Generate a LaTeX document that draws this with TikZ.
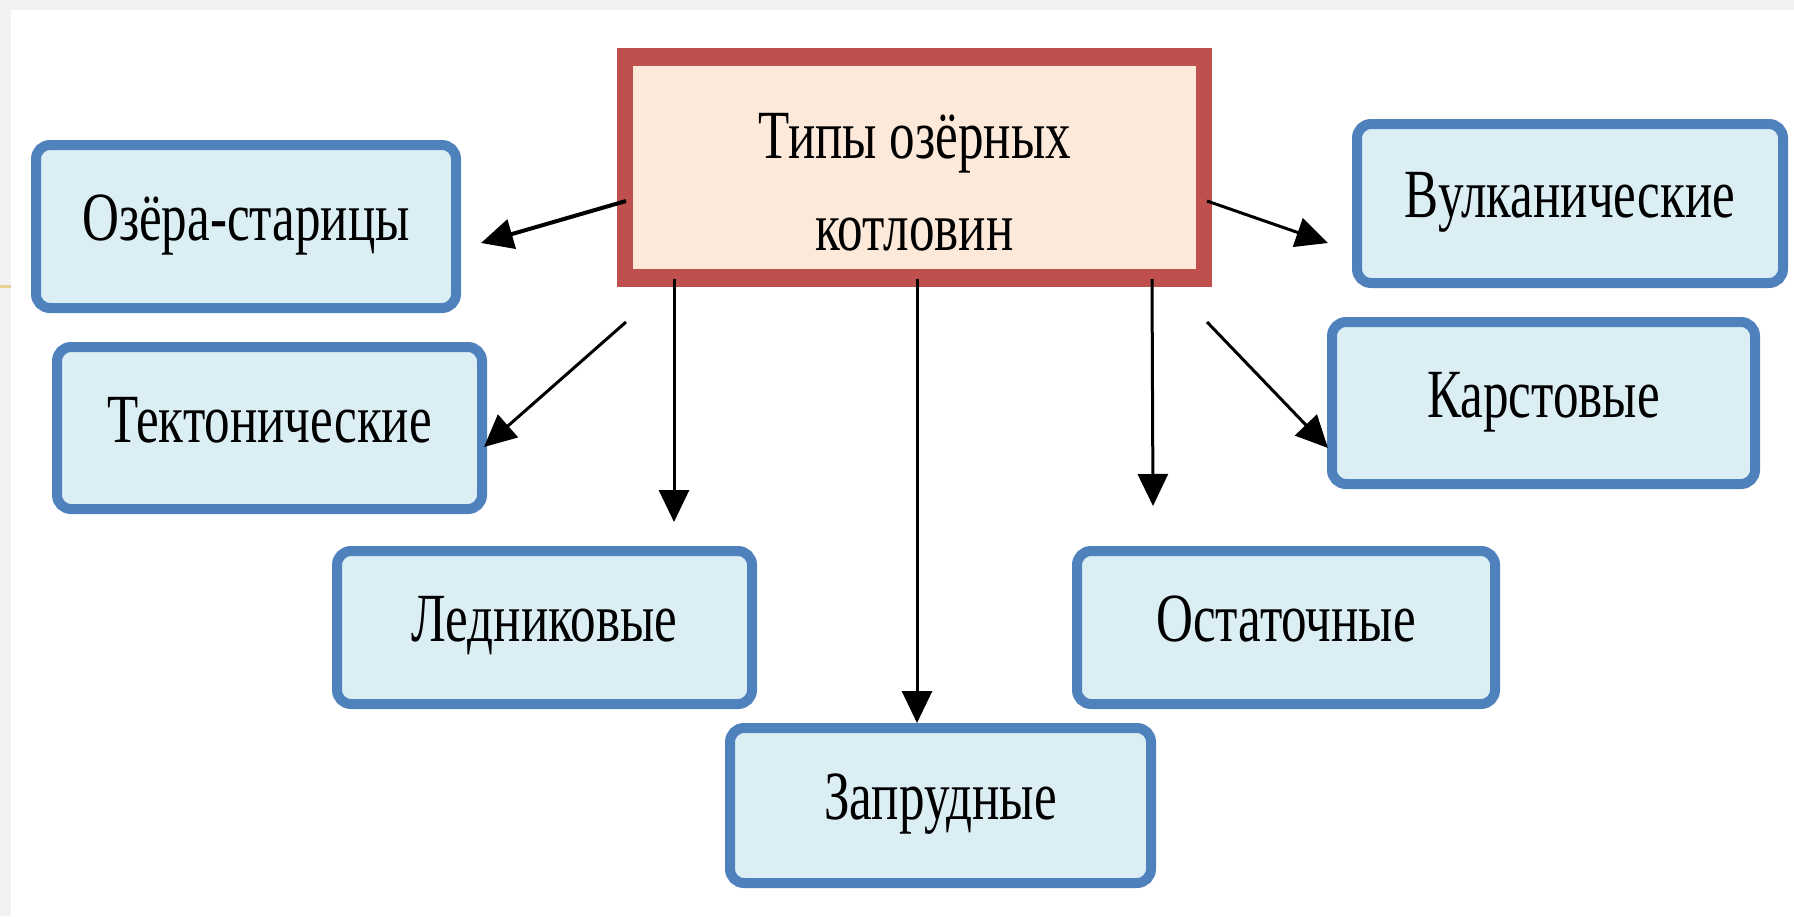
\documentclass[tikz,border=0pt]{standalone}
\usepackage{fontspec}
\setmainfont{Liberation Serif}[FakeStretch=0.74]
\usetikzlibrary{arrows.meta}
\definecolor{boxblue}{HTML}{4F81BD}
\definecolor{boxfill}{HTML}{DBEEF4}
\definecolor{mainred}{HTML}{C0504D}
\definecolor{maincream}{HTML}{FDE9D9}
\definecolor{edgegray}{HTML}{F2F2F2}
\definecolor{edgetan}{HTML}{E9CF92}
\begin{document}
\begin{tikzpicture}[x=1pt,y=-1pt,
  typebox/.style={draw=boxblue, fill=boxfill, line width=10pt, rounded corners=14pt,
    font=\fontsize{69}{92}\selectfont, text height=46pt, text depth=18pt, inner sep=0pt},
  mainbox/.style={draw=mainred, fill=maincream, line width=16pt, inner sep=0pt,
    font=\fontsize{69}{92}\selectfont, align=center},
  innerline/.style={draw=mainred, line width=3.5pt},
  arr/.style={line width=3pt, -{Triangle[length=32pt,width=30pt]}}]
\useasboundingbox (0,0) rectangle (1794,916);
\fill[white] (0,0) rectangle (1794,916);
\fill[edgegray] (0,0) rectangle (1794,10);
\fill[edgegray] (0,0) rectangle (11,916);
\draw[edgetan, line width=3pt] (0,286) -- (11,286);

\node[mainbox, minimum width=579pt, minimum height=223pt] (main) at (914.5,167.5) {\rule{0pt}{75pt}Типы озёрных\\котловин};
\draw[innerline] ([shift={(13,16)}]main.north west) rectangle ([shift={(-13,-16)}]main.south east);

\node[typebox, minimum width=420pt, minimum height=163pt] (oz) at (246,226.5) {Озёра-старицы};
\node[typebox, minimum width=425pt, minimum height=162pt] (tek) at (269.5,428) {Тектонические};
\node[typebox, minimum width=415pt, minimum height=153pt] (led) at (544.5,627.5) {Ледниковые};
\node[typebox, minimum width=421pt, minimum height=155pt] (zap) at (940.5,805.5) {Запрудные};
\node[typebox, minimum width=418pt, minimum height=153pt] (ost) at (1286,627.5) {Остаточные};
\node[typebox, minimum width=423pt, minimum height=162pt] (kar) at (1543.5,403) {Карстовые};
\node[typebox, minimum width=426pt, minimum height=159pt] (vul) at (1570,203.5) {Вулканические};

\coordinate (a1s) at (626,201); \coordinate (a1e) at (481,243);
\coordinate (a2s) at (626,322); \coordinate (a2e) at (484,447);
\coordinate (a3s) at (674,279); \coordinate (a3e) at (674,522);
\coordinate (a4s) at (917,279);
\coordinate (a5s) at (1152,279); \coordinate (a5e) at (1153,506);
\coordinate (a6s) at (1207,201); \coordinate (a6e) at (1328,243);
\coordinate (a7s) at (1207,322); \coordinate (a7e) at (1328,448);

\draw[arr, line width=4pt] (a1s) -- (a1e);
\draw[arr] (a2s) -- (a2e);
\draw[arr] (a3s) -- (a3e);
\draw[arr] (a4s) -- (a4s |- zap.north);
\draw[arr] (a5s) -- (a5e);
\draw[arr] (a6s) -- (a6e);
\draw[arr] (a7s) -- (a7e);
\end{tikzpicture}
\end{document}
